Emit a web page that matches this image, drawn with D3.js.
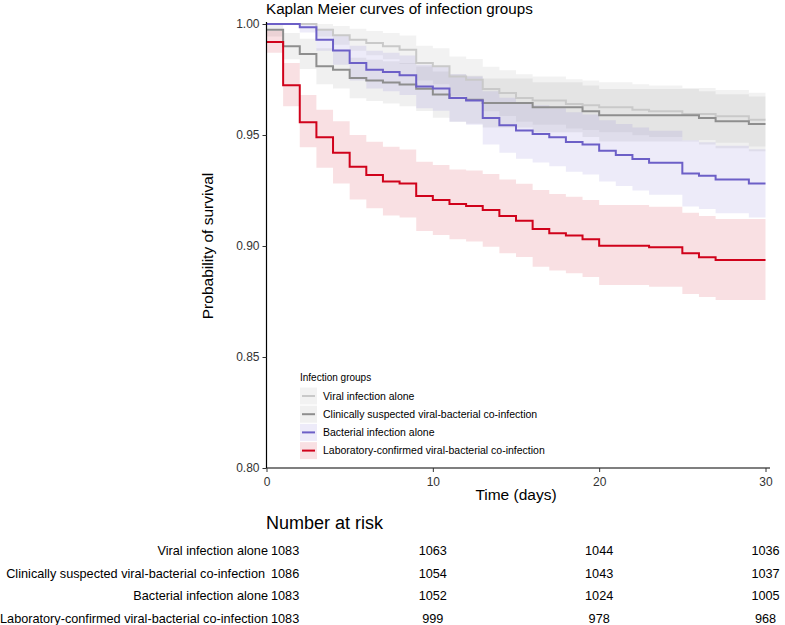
<!DOCTYPE html>
<html><head><meta charset="utf-8">
<script src="https://cdn.jsdelivr.net/npm/d3@7"></script>
<style>body{margin:0;background:#fff;} svg{display:block;font-family:"Liberation Sans",Arial,sans-serif;}</style>
</head><body>
<svg id="chart" width="785" height="625"></svg>
<script>
// ---------- DATA ----------
const groupNames = ["Viral infection alone","Clinically suspected viral-bacterial co-infection","Bacterial infection alone","Laboratory-confirmed viral-bacterial co-infection"];

const viralTimes = [0,3,4,5,6,7,8,9,10,11,12,13,14,15,16,18,19,20,22,23,25,27,29];
const viralSurv  = [1.0,0.9974,0.9949,0.9929,0.9914,0.9900,0.9884,0.9824,0.9810,0.9764,0.9749,0.9707,0.9689,0.9667,0.9655,0.9640,0.9634,0.9625,0.9614,0.9607,0.9595,0.9584,0.9569];
const viralUpper = [1.0,1.0,0.9991,0.9979,0.9969,0.9959,0.9948,0.9902,0.9891,0.9854,0.9842,0.9807,0.9792,0.9774,0.9764,0.9751,0.9746,0.9738,0.9729,0.9723,0.9712,0.9703,0.9690];
const viralLower = [1.0,0.9944,0.9907,0.9879,0.9859,0.9841,0.9820,0.9746,0.9729,0.9674,0.9656,0.9607,0.9586,0.9560,0.9546,0.9529,0.9522,0.9512,0.9499,0.9491,0.9478,0.9465,0.9448];

const clinTimes = [0,1,2,3,4,5,6,7,8,9,10,11,12,13,16,19,20,26,27,29];
const clinSurv  = [0.9974,0.9900,0.9865,0.9810,0.9794,0.9757,0.9746,0.9737,0.9727,0.9708,0.9682,0.9667,0.9659,0.9644,0.9625,0.9607,0.9589,0.9577,0.9562,0.9550];
const clinUpper = [1.0,0.9959,0.9933,0.9891,0.9878,0.9848,0.9839,0.9832,0.9824,0.9808,0.9786,0.9774,0.9767,0.9754,0.9738,0.9723,0.9707,0.9697,0.9684,0.9673];
const clinLower = [0.9944,0.9841,0.9797,0.9729,0.9710,0.9666,0.9653,0.9642,0.9630,0.9608,0.9578,0.9560,0.9551,0.9534,0.9512,0.9491,0.9471,0.9457,0.9440,0.9427];

const bactTimes = [0,2,3,4,5,6,7,8,9,10,11,12,13,14,15,16,17,18,19,20,21,22,23,25,26,27,29];
const bactSurv  = [1.0,0.9985,0.9929,0.9881,0.9824,0.9794,0.9784,0.9769,0.9719,0.9709,0.9667,0.9655,0.9577,0.9544,0.9520,0.9505,0.9490,0.9468,0.9457,0.9429,0.9410,0.9392,0.9375,0.9327,0.9317,0.9300,0.9282];
const bactUpper = [1.0,1.0,0.9979,0.9946,0.9902,0.9879,0.9871,0.9858,0.9817,0.9809,0.9774,0.9764,0.9697,0.9668,0.9647,0.9634,0.9621,0.9602,0.9592,0.9567,0.9550,0.9534,0.9519,0.9476,0.9467,0.9452,0.9436];
const bactLower = [1.0,0.9962,0.9879,0.9816,0.9746,0.9709,0.9697,0.9680,0.9621,0.9609,0.9560,0.9546,0.9457,0.9420,0.9393,0.9376,0.9359,0.9334,0.9322,0.9291,0.9270,0.9250,0.9231,0.9178,0.9167,0.9148,0.9128];

const labTimes = [0,1,2,3,4,5,6,7,8,9,10,11,12,13,14,15,16,17,18,19,20,23,25,26,27];
const labSurv  = [0.9919,0.9724,0.9557,0.9490,0.9420,0.9357,0.9320,0.9290,0.9282,0.9225,0.9207,0.9189,0.9180,0.9162,0.9135,0.9114,0.9077,0.9057,0.9047,0.9030,0.9001,0.8994,0.8967,0.8949,0.8937];
const labUpper = [0.9970,0.9824,0.9680,0.9614,0.9562,0.9500,0.9470,0.9447,0.9435,0.9380,0.9365,0.9345,0.9340,0.9324,0.9300,0.9280,0.9252,0.9234,0.9222,0.9207,0.9185,0.9177,0.9150,0.9135,0.9122];
const labLower = [0.9870,0.9630,0.9445,0.9353,0.9282,0.9210,0.9170,0.9137,0.9128,0.9068,0.9050,0.9030,0.9020,0.8997,0.8967,0.8950,0.8907,0.8890,0.8877,0.8860,0.8824,0.8817,0.8784,0.8770,0.8757];

const endTime = 30;
const xTicks = [0,10,20,30];
const yTicks = [0.80,0.85,0.90,0.95,1.00];

const riskTimes = [0,10,20,30];
const riskViral = [1083,1063,1044,1036];
const riskClin  = [1086,1054,1043,1037];
const riskBact  = [1083,1052,1024,1005];
const riskLab   = [1083,999,978,968];

// ---------- STYLE ----------
const lineColors = ["#c9c9c9","#8e8e8e","#6c5fc7","#d0021b"];
const bandColors = ["#bdbdbd","#8e8e8e","#6a5acd","#d0021b"];
const bandOpacity = [0.2,0.13,0.12,0.12];

const series = [
  {t:viralTimes,s:viralSurv,u:viralUpper,l:viralLower},
  {t:clinTimes,s:clinSurv,u:clinUpper,l:clinLower},
  {t:bactTimes,s:bactSurv,u:bactUpper,l:bactLower},
  {t:labTimes,s:labSurv,u:labUpper,l:labLower}
].map((g,i)=>{
  const pts = g.t.map((t,j)=>({t, s:g.s[j], u:g.u[j], l:g.l[j]}));
  const last = pts[pts.length-1];
  pts.push({t:endTime, s:last.s, u:last.u, l:last.l});
  return {name:groupNames[i], pts};
});

const svg = d3.select("#chart");
const x = d3.scaleLinear().domain([0,30]).range([266.5,765.5]);
const y = d3.scaleLinear().domain([0.80,1.00]).range([468,24]);

// bands
const area = d3.area().curve(d3.curveStepAfter).x(d=>x(d.t)).y0(d=>y(d.l)).y1(d=>y(d.u));
svg.append("g").selectAll("path").data(series).join("path")
  .attr("d",d=>area(d.pts)).attr("fill",(d,i)=>bandColors[i]).attr("fill-opacity",(d,i)=>bandOpacity[i]).attr("stroke","none");

// lines
const line = d3.line().curve(d3.curveStepAfter).x(d=>x(d.t)).y(d=>y(d.s));
svg.append("g").selectAll("path").data(series).join("path")
  .attr("d",d=>line(d.pts)).attr("fill","none").attr("stroke",(d,i)=>lineColors[i]).attr("stroke-width",2);

// axes
const yAxis = svg.append("g").attr("transform","translate(266.5,0)")
  .call(d3.axisLeft(y).tickValues(yTicks).tickFormat(d3.format(".2f")).tickSize(4).tickSizeOuter(0));
const xAxis = svg.append("g").attr("transform","translate(0,468)")
  .call(d3.axisBottom(x).tickValues(xTicks).tickSize(4).tickSizeOuter(0));
[yAxis,xAxis].forEach(a=>{
  a.selectAll("text").attr("font-size",12).attr("fill","#333").attr("font-family","Liberation Sans, Arial, sans-serif");
  a.selectAll("line").attr("stroke","#333");
  a.select(".domain").attr("stroke","#000").attr("stroke-width",1.2);
});
yAxis.select(".domain").attr("d","M0,22V468");
xAxis.select(".domain").attr("d","M266.5,0H770");
xAxis.selectAll("text").attr("dy","0.9em");

// titles
svg.append("text").attr("x",266).attr("y",14).attr("font-size",15.2).attr("fill","#000").text("Kaplan Meier curves of infection groups");
svg.append("text").attr("transform","translate(213,246) rotate(-90)").attr("text-anchor","middle").attr("font-size",15.5).text("Probability of survival");
svg.append("text").attr("x",516).attr("y",500).attr("text-anchor","middle").attr("font-size",15.5).text("Time (days)");

// legend
const lg = svg.append("g").attr("transform","translate(300,0)");
lg.append("text").attr("x",0).attr("y",380.5).attr("font-size",10).text("Infection groups");
groupNames.forEach((n,i)=>{
  const yy = 387.5 + i*18.2;
  lg.append("rect").attr("x",0).attr("y",yy).attr("width",17).attr("height",17).attr("fill",bandColors[i]).attr("fill-opacity",bandOpacity[i]);
  lg.append("line").attr("x1",2).attr("x2",15).attr("y1",yy+8.5).attr("y2",yy+8.5).attr("stroke",lineColors[i]).attr("stroke-width",2);
  lg.append("text").attr("x",23).attr("y",yy+12.3).attr("font-size",10.5).text(n);
});

// risk table
svg.append("text").attr("x",266).attr("y",529).attr("font-size",18).text("Number at risk");
const risks = [riskViral,riskClin,riskBact,riskLab];
groupNames.forEach((n,i)=>{
  const yy = 555 + i*22.5;
  svg.append("text").attr("x",i===1?265:268).attr("y",yy).attr("text-anchor","end").attr("font-size",12.7).text(n);
  riskTimes.forEach((t,j)=>{
    svg.append("text").attr("x", j===0 ? 271 : x(t)).attr("y",yy)
      .attr("text-anchor", j===0 ? "start" : "middle").attr("font-size",12.7).text(risks[i][j]);
  });
});
</script>
</body></html>
